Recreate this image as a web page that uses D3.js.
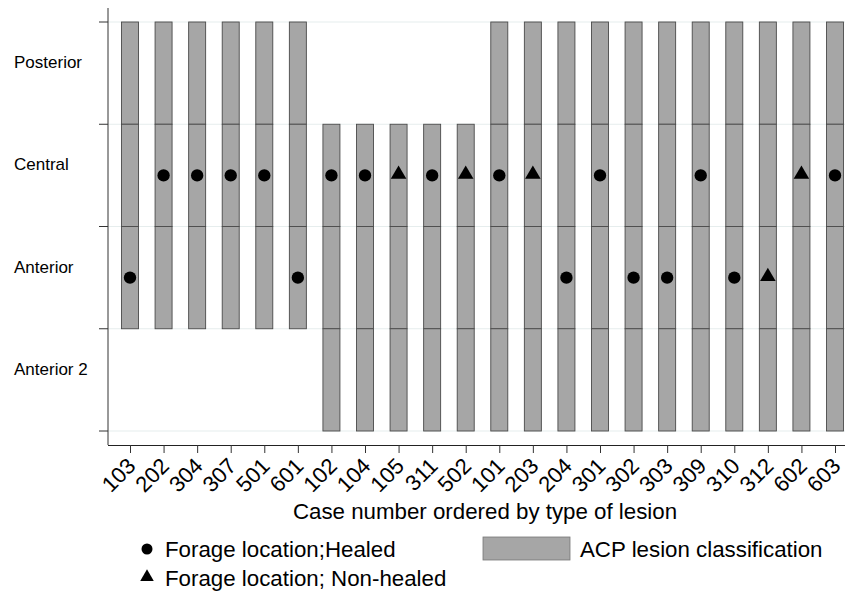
<!DOCTYPE html>
<html>
<head>
<meta charset="utf-8">
<script src="https://cdn.jsdelivr.net/npm/d3@7"></script>
<style>
  body { margin: 0; background: #fff; }
  text { font-family: "Liberation Sans", Arial, sans-serif; fill: #000; }
</style>
</head>
<body>
<svg width="846" height="592"></svg>
<script>
const cases = ['103', '202', '304', '307', '501', '601', '102', '104', '105', '311', '502',
  '101', '203', '204', '301', '302', '303', '309', '310', '312', '602', '603'];
const zones = ['Posterior', 'Central', 'Anterior', 'Anterior 2'];

// lesion zones covered for each case (by zone name)
const lesionFrom = ['Posterior', 'Posterior', 'Posterior', 'Posterior', 'Posterior', 'Posterior',
  'Central', 'Central', 'Central', 'Central', 'Central',
  'Posterior', 'Posterior', 'Posterior', 'Posterior', 'Posterior', 'Posterior', 'Posterior',
  'Posterior', 'Posterior', 'Posterior', 'Posterior'];
const lesionTo = ['Anterior', 'Anterior', 'Anterior', 'Anterior', 'Anterior', 'Anterior',
  'Anterior 2', 'Anterior 2', 'Anterior 2', 'Anterior 2', 'Anterior 2',
  'Anterior 2', 'Anterior 2', 'Anterior 2', 'Anterior 2', 'Anterior 2', 'Anterior 2', 'Anterior 2',
  'Anterior 2', 'Anterior 2', 'Anterior 2', 'Anterior 2'];

// forage location and outcome
const forage = ['Anterior', 'Central', 'Central', 'Central', 'Central', 'Anterior',
  'Central', 'Central', 'Central', 'Central', 'Central',
  'Central', 'Central', 'Anterior', 'Central', 'Anterior', 'Anterior', 'Central',
  'Anterior', 'Anterior', 'Central', 'Central'];
const healed = [true, true, true, true, true, true,
  true, true, false, true, false,
  true, false, true, true, true, true, true,
  true, false, false, true];

const svg = d3.select('svg');

const x = d3.scalePoint()
  .domain(cases)
  .range([130, 835]);

const y = d3.scaleBand()
  .domain(zones)
  .range([22, 431]);

// gridlines
const gridY = zones.map(z => y(z)).concat([y.range()[1]]);
svg.selectAll('.grid')
  .data(gridY)
  .enter()
  .append('line')
  .attr('class', 'grid')
  .attr('x1', 108)
  .attr('x2', 845)
  .attr('y1', d => d)
  .attr('y2', d => d)
  .attr('stroke', '#e6eded')
  .attr('stroke-width', 1.2);

// bar segments
const segs = [];
cases.forEach((c, i) => {
  const a = zones.indexOf(lesionFrom[i]);
  const b = zones.indexOf(lesionTo[i]);
  for (let k = a; k <= b; k++) segs.push({ c: c, z: zones[k] });
});

const barW = 17;
svg.selectAll('.seg')
  .data(segs)
  .enter()
  .append('rect')
  .attr('class', 'seg')
  .attr('x', d => x(d.c) - barW / 2)
  .attr('y', d => y(d.z))
  .attr('width', barW)
  .attr('height', y.bandwidth())
  .attr('fill', '#a6a6a6')
  .attr('stroke', '#4a4a4a')
  .attr('stroke-width', 0.9);

// markers
const pts = cases.map((c, i) => ({ c: c, z: forage[i], h: healed[i] }));
const circle = d3.symbol().type(d3.symbolCircle).size(120);
const tri = d3.symbol().type(d3.symbolTriangle).size(105);
svg.selectAll('.pt')
  .data(pts)
  .enter()
  .append('path')
  .attr('class', 'pt')
  .attr('transform', d => `translate(${x(d.c)},${y(d.z) + y.bandwidth() / 2 + (d.h ? 0 : -1)})`)
  .attr('d', d => d.h ? circle() : tri())
  .attr('fill', '#000');

// y axis
svg.append('line')
  .attr('x1', 108).attr('x2', 108)
  .attr('y1', 8).attr('y2', 445)
  .attr('stroke', '#333').attr('stroke-width', 1);
svg.selectAll('.ytick')
  .data(gridY)
  .enter()
  .append('line')
  .attr('class', 'ytick')
  .attr('x1', 99).attr('x2', 108)
  .attr('y1', d => d).attr('y2', d => d)
  .attr('stroke', '#333');
svg.selectAll('.ylab')
  .data(zones)
  .enter()
  .append('text')
  .attr('class', 'ylab')
  .attr('x', 14)
  .attr('y', d => y(d) + y.bandwidth() / 2 - 5)
  .attr('font-size', 17)
  .text(d => d);

// x axis
const xAxis = svg.append('g')
  .attr('transform', 'translate(0,445)')
  .call(d3.axisBottom(x).tickSize(8).tickSizeOuter(0));
xAxis.select('.domain').attr('d', 'M108,0.5H845').attr('stroke', '#222');
xAxis.selectAll('.tick line').attr('stroke', '#333');
xAxis.selectAll('.tick text')
  .attr('font-family', '"Liberation Sans", Arial, sans-serif')
  .attr('font-size', 22)
  .attr('fill', '#000')
  .attr('text-anchor', 'end')
  .attr('x', 0)
  .attr('y', 0)
  .attr('dy', '0.35em')
  .attr('transform', 'translate(1,17) rotate(-45)');

svg.append('text')
  .attr('x', 485)
  .attr('y', 519)
  .attr('text-anchor', 'middle')
  .attr('font-size', 22.3)
  .text('Case number ordered by type of lesion');

// legend
const leg = svg.append('g');
leg.append('path')
  .attr('transform', 'translate(147,549)')
  .attr('d', d3.symbol().type(d3.symbolCircle).size(95)())
  .attr('fill', '#000');
leg.append('text').attr('x', 165).attr('y', 557).attr('font-size', 22.3)
  .text('Forage location;Healed');
leg.append('path')
  .attr('transform', 'translate(147,577)')
  .attr('d', d3.symbol().type(d3.symbolTriangle).size(80)())
  .attr('fill', '#000');
leg.append('text').attr('x', 165).attr('y', 586).attr('font-size', 22.3)
  .text('Forage location; Non-healed');
leg.append('rect')
  .attr('x', 483).attr('y', 537).attr('width', 87).attr('height', 23)
  .attr('fill', '#a6a6a6').attr('stroke', '#777').attr('stroke-width', 0.8);
leg.append('text').attr('x', 580).attr('y', 557).attr('font-size', 22.3)
  .text('ACP lesion classification');
</script>
</body>
</html>
